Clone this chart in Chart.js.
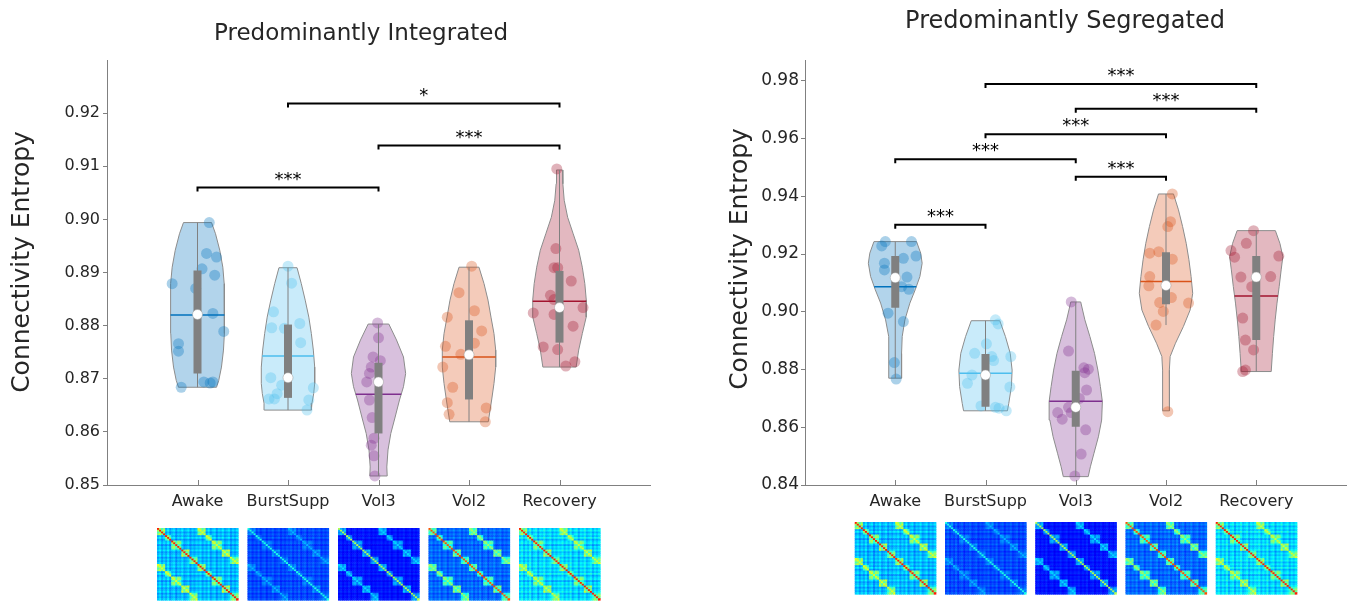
<!DOCTYPE html>
<html>
<head>
<meta charset="utf-8">
<script src="https://cdn.jsdelivr.net/npm/chart.js@4.4.1/dist/chart.umd.min.js"></script>
<style>
  body { margin: 0; background: #fff; width: 1352px; height: 601px; overflow: hidden; position: relative; }
  canvas { position: absolute; top: 0; }
  #int_chart { left: 0; }
  #seg_chart { left: 676px; }
</style>
</head>
<body>
<canvas id="int_chart" width="676" height="601"></canvas>
<canvas id="seg_chart" width="676" height="601"></canvas>
<script>
const conditions = ['Awake', 'BurstSupp', 'Vol3', 'Vol2', 'Recovery'];
const colors = ['#0072BD', '#4DBEEE', '#7E2F8E', '#D95319', '#A2142F'];
const xTickValues = [1, 2, 3, 4, 5];

// ---- Predominantly Integrated ----
const intTicks = [0.85, 0.86, 0.87, 0.88, 0.89, 0.90, 0.91, 0.92];
// violin outline: [value, half width in category units], top to bottom
const intViolin = [
  [[0.8994,0.155],[0.8973,0.199],[0.8942,0.246],[0.8910,0.280],[0.8879,0.295],[0.8848,0.298],[0.8816,0.298],[0.8785,0.295],[0.8754,0.287],[0.8722,0.265],[0.8697,0.235],[0.8684,0.210]],
  [[0.8909,0.100],[0.8879,0.147],[0.8848,0.190],[0.8816,0.230],[0.8785,0.258],[0.8754,0.280],[0.8722,0.295],[0.8691,0.295],[0.8672,0.284],[0.8654,0.265],[0.8641,0.258]],
  [[0.8803,0.114],[0.8773,0.199],[0.8741,0.276],[0.8710,0.300],[0.8685,0.276],[0.8660,0.232],[0.8628,0.184],[0.8597,0.136],[0.8566,0.105],[0.8534,0.092],[0.8517,0.096]],
  [[0.8910,0.110],[0.8879,0.166],[0.8848,0.210],[0.8816,0.243],[0.8785,0.276],[0.8754,0.295],[0.8722,0.295],[0.8691,0.276],[0.8660,0.250],[0.8628,0.221],[0.8619,0.213]],
  [[0.9093,0.033],[0.9067,0.037],[0.9036,0.052],[0.9004,0.090],[0.8973,0.151],[0.8942,0.212],[0.8910,0.252],[0.8879,0.280],[0.8848,0.296],[0.8816,0.295],[0.8785,0.252],[0.8754,0.212],[0.8722,0.184]]
];
const intBox = [[0.8710,0.8904],[0.8664,0.8802],[0.8597,0.8730],[0.8661,0.8810],[0.8768,0.8903]];
const intWhisker = [[0.8684,0.8994],[0.8641,0.8909],[0.8517,0.8803],[0.8619,0.8910],[0.8722,0.9093]];
const intMedian = [0.8821, 0.8702, 0.8694, 0.8745, 0.8834];
const intMean = [0.8820, 0.8743, 0.8671, 0.8741, 0.8846];
const intPoints = [
  [0.8994,0.8936,0.8929,0.8907,0.8895,0.8879,0.8870,0.8823,0.8789,0.8766,0.8752,0.8684,0.8694,0.8692,0.8694],
  [0.8912,0.8880,0.8826,0.8796,0.8795,0.8804,0.8768,0.8702,0.8688,0.8672,0.8662,0.8662,0.8683,0.8660,0.8641],
  [0.8805,0.8777,0.8741,0.8734,0.8722,0.8710,0.8694,0.8660,0.8627,0.8588,0.8575,0.8555,0.8517],
  [0.8912,0.8862,0.8816,0.8828,0.8790,0.8767,0.8761,0.8746,0.8722,0.8684,0.8655,0.8633,0.8645,0.8619],
  [0.9095,0.8945,0.8909,0.8909,0.8884,0.8857,0.8849,0.8824,0.8821,0.8834,0.8799,0.8760,0.8755,0.8724,0.8732]
];
const intJitter = [
  [0.13,0.10,0.21,0.05,0.19,-0.28,-0.02,0.17,0.29,-0.21,-0.21,-0.18,0.07,0.14,0.17],
  [0.00,0.04,-0.16,-0.18,-0.04,0.13,0.14,-0.19,-0.07,-0.12,-0.15,-0.21,0.28,0.23,0.21],
  [-0.01,0.00,-0.06,0.02,-0.08,-0.10,-0.13,-0.10,-0.07,-0.05,-0.08,-0.05,-0.04],
  [0.03,-0.11,-0.24,0.06,0.14,0.06,-0.26,-0.09,-0.29,-0.18,-0.24,-0.22,0.19,0.18],
  [-0.03,-0.04,-0.06,-0.02,0.13,-0.10,-0.06,-0.29,-0.06,0.26,0.15,-0.18,-0.02,0.07,0.17]
];
// significance: [from, to, level, stars]
const intSig = [[2, 5, 0.9218, '*'], [3, 5, 0.9139, '***'], [1, 3, 0.9060, '***']];

// ---- Predominantly Segregated ----
const segTicks = [0.84, 0.86, 0.88, 0.90, 0.92, 0.94, 0.96, 0.98];
const segViolin = [
  [[0.9243,0.236],[0.9203,0.282],[0.9168,0.298],[0.9122,0.273],[0.9076,0.221],[0.9030,0.162],[0.8972,0.107],[0.8914,0.077],[0.8856,0.070],[0.8798,0.070],[0.8770,0.070]],
  [[0.8969,0.158],[0.8914,0.221],[0.8856,0.274],[0.8798,0.295],[0.8741,0.287],[0.8683,0.258],[0.8657,0.243]],
  [[0.9034,0.055],[0.8972,0.101],[0.8914,0.157],[0.8856,0.208],[0.8798,0.245],[0.8741,0.273],[0.8689,0.295],[0.8625,0.287],[0.8567,0.251],[0.8510,0.202],[0.8463,0.162],[0.8429,0.138]],
  [[0.9408,0.083],[0.9353,0.138],[0.9295,0.184],[0.9237,0.224],[0.9180,0.254],[0.9122,0.278],[0.9064,0.296],[0.9006,0.267],[0.8949,0.193],[0.8891,0.105],[0.8845,0.046],[0.8798,0.037],[0.8741,0.037],[0.8683,0.039],[0.8657,0.039]],
  [[0.9281,0.212],[0.9237,0.262],[0.9191,0.295],[0.9145,0.276],[0.9087,0.254],[0.9030,0.230],[0.8972,0.210],[0.8914,0.193],[0.8856,0.179],[0.8793,0.166]]
];
const segBox = [[0.9014,0.9193],[0.8671,0.8854],[0.8602,0.8796],[0.9026,0.9206],[0.8902,0.9193]];
const segWhisker = [[0.8770,0.9243],[0.8657,0.8969],[0.8429,0.9034],[0.8954,0.9408],[0.8793,0.9281]];
const segMedian = [0.9118, 0.8781, 0.8669, 0.9091, 0.9120];
const segMean = [0.9087, 0.8787, 0.8690, 0.9105, 0.9055];
const segPoints = [
  [0.9243,0.9243,0.9228,0.9193,0.9185,0.9168,0.9145,0.9120,0.9087,0.9078,0.8995,0.8966,0.8824,0.8767],
  [0.8972,0.8958,0.8889,0.8856,0.8845,0.8831,0.8845,0.8781,0.8752,0.8739,0.8674,0.8669,0.8666,0.8657],
  [0.9034,0.8864,0.8806,0.8801,0.8789,0.8729,0.8700,0.8669,0.8651,0.8651,0.8628,0.8591,0.8507,0.8431],
  [0.9408,0.9312,0.9295,0.9203,0.9208,0.9182,0.9122,0.9090,0.9049,0.9032,0.9030,0.9001,0.8954,0.8654],
  [0.9281,0.9237,0.9212,0.9189,0.9193,0.9120,0.9122,0.9087,0.8978,0.8902,0.8868,0.8798,0.8793]
];
const segJitter = [
  [-0.11,0.18,-0.15,0.23,0.09,-0.12,-0.12,0.13,0.07,0.15,-0.08,0.09,-0.01,0.01],
  [0.11,0.14,0.01,-0.12,0.07,0.09,0.28,-0.15,-0.20,0.27,-0.05,0.11,0.15,0.23],
  [-0.05,-0.08,0.09,0.14,0.10,0.12,0.04,-0.08,-0.05,-0.20,-0.15,0.11,0.06,-0.01],
  [0.07,0.05,0.02,-0.18,-0.08,0.07,-0.18,-0.19,0.06,-0.07,0.25,-0.03,-0.11,0.02],
  [-0.03,-0.11,-0.28,-0.24,0.25,-0.17,0.16,-0.05,-0.15,-0.12,-0.03,-0.12,-0.15]
];
const segSig = [[2, 5, 0.9789, '***'], [3, 5, 0.9703, '***'], [2, 4, 0.9615, '***'], [1, 3, 0.9528, '***'], [3, 4, 0.9468, '***'], [1, 2, 0.9301, '***']];

// connectivity matrix thumbnails (jet colour levels), one hemisphere of regions
const thumbModule = [0,0,0,0,1,1,1,2,2,2,2,2,3,3,3,3,4,4,4,4];
const thumbWeight = [1.0,1.25,0.85,1.15,0.9,1.3,0.8,1.05,1.2,0.75,1.1,0.95,1.25,0.85,1.0,1.2,0.8,1.1,0.9,1.15];
// [between, within, diagonal]
const thumbLevels = [[0.30,0.48,0.85],[0.19,0.24,0.40],[0.14,0.27,0.55],[0.22,0.43,0.80],[0.33,0.47,0.85]];

const FONT = "'DejaVu Sans', Verdana, sans-serif";
const TEXT = '#262626';
const AXIS = '#808080';

function rgba(hex, a) {
  const n = parseInt(hex.slice(1), 16);
  return `rgba(${n >> 16},${(n >> 8) & 255},${n & 255},${a})`;
}

function jet(v) {
  const c = t => Math.round(255 * Math.max(0, Math.min(1, t)));
  return `rgb(${c(1.5 - Math.abs(4 * v - 3))},${c(1.5 - Math.abs(4 * v - 2))},${c(1.5 - Math.abs(4 * v - 1))})`;
}

function widthAt(shape, v) {
  for (let k = 0; k < shape.length - 1; k++) {
    const [v1, w1] = shape[k], [v2, w2] = shape[k + 1];
    if (v <= v1 && v >= v2) return w1 + (w2 - w1) * (v - v1) / (v2 - v1);
  }
  return shape[shape.length - 1][1];
}

function buildDatasets(p) {
  const ds = [];
  p.violin.forEach((shape, i) => {
    const c = i + 1;
    const right = shape.map(([v, hw]) => ({x: c + hw, y: v}));
    const left = shape.slice().reverse().map(([v, hw]) => ({x: c - hw, y: v}));
    ds.push({
      data: right.concat(left, [right[0]]), showLine: true, fill: 'shape',
      backgroundColor: rgba(colors[i], 0.3), borderColor: '#8c8c8c', borderWidth: 1,
      pointRadius: 0, tension: 0, order: 10
    });
    ds.push({
      data: p.points[i].map((v, k) => ({x: c + p.jitter[i][k], y: v})),
      pointRadius: 5.5, backgroundColor: rgba(colors[i], 0.33), borderWidth: 0, clip: false, order: 9
    });
    ds.push({
      data: [{x: c, y: p.whisker[i][0]}, {x: c, y: p.whisker[i][1]}], showLine: true,
      borderColor: AXIS, borderWidth: 1, pointRadius: 0, order: 8
    });
    const mw = widthAt(shape, p.mean[i]);
    ds.push({
      data: [{x: c - mw, y: p.mean[i]}, {x: c + mw, y: p.mean[i]}], showLine: true,
      borderColor: colors[i], borderWidth: 1.5, pointRadius: 0, order: 7
    });
    ds.push({
      data: [{x: c, y: p.box[i][0]}, {x: c, y: p.box[i][1]}], showLine: true,
      borderColor: AXIS, borderWidth: 8, borderCapStyle: 'butt', pointRadius: 0, order: 6
    });
    ds.push({
      data: [{x: c, y: p.median[i]}], pointRadius: 5, backgroundColor: '#fff',
      borderColor: '#9a9a9a', borderWidth: 0.5, order: 5
    });
  });
  return ds;
}

function drawThumb(ctx, cx, top, w, h, lv) {
  const half = thumbModule.length, n = half * 2;
  const cw = w / n, ch = h / n, left = cx - w / 2;
  for (let i = 0; i < n; i++) {
    for (let j = 0; j < n; j++) {
      const ri = i % half, rj = j % half;
      const s = Math.sqrt(thumbWeight[ri] * thumbWeight[rj]);
      let v;
      if (i === j) v = lv[2];
      else if (ri === rj) v = lv[1] * 1.25;
      else if (thumbModule[ri] === thumbModule[rj]) v = lv[1] * s;
      else v = lv[0] * s;
      ctx.fillStyle = jet(v);
      ctx.fillRect(left + j * cw, top + i * ch, cw + 0.6, ch + 0.6);
    }
  }
}

function makeDecor(p) {
  return {
    id: 'decor',
    afterDraw(chart) {
      const {ctx, chartArea} = chart;
      const x = chart.scales.x, y = chart.scales.y;
      ctx.save();
      ctx.fillStyle = TEXT;
      ctx.font = `${p.titleSize}px ${FONT}`;
      ctx.textAlign = 'center';
      ctx.textBaseline = 'middle';
      ctx.fillText(p.title, p.titleX, p.titleY);

      ctx.strokeStyle = AXIS;
      ctx.lineWidth = 1;
      xTickValues.forEach(v => {
        const px = Math.round(x.getPixelForValue(v)) + 0.5;
        ctx.beginPath();
        ctx.moveTo(px, chartArea.bottom);
        ctx.lineTo(px, chartArea.bottom - 5);
        ctx.stroke();
      });
      p.sig.forEach(([a, b, v, label]) => {
        const x1 = x.getPixelForValue(a), x2 = x.getPixelForValue(b), py = y.getPixelForValue(v);
        ctx.strokeStyle = '#000';
        ctx.lineWidth = 2;
        ctx.beginPath();
        ctx.moveTo(x1, py + 4); ctx.lineTo(x1, py); ctx.lineTo(x2, py); ctx.lineTo(x2, py + 4);
        ctx.stroke();
        ctx.fillStyle = '#000';
        ctx.font = `18px ${FONT}`;
        ctx.textAlign = 'center';
        ctx.textBaseline = 'alphabetic';
        ctx.fillText(label, (x1 + x2) / 2, py - 3);
      });
      ctx.save();
      ctx.translate(p.yTitleX, p.yTitleY);
      ctx.rotate(-Math.PI / 2);
      ctx.font = `25px ${FONT}`;
      ctx.fillStyle = TEXT;
      ctx.textAlign = 'center';
      ctx.textBaseline = 'middle';
      ctx.fillText('Connectivity Entropy', 0, 0);
      ctx.restore();
      thumbLevels.forEach((lv, i) => {
        drawThumb(ctx, x.getPixelForValue(i + 1), p.thumbTop, 81, 72, lv);
      });
      ctx.restore();
    }
  };
}

function makeChart(id, p) {
  new Chart(document.getElementById(id), {
    type: 'scatter',
    data: {datasets: buildDatasets(p)},
    plugins: [makeDecor(p)],
    options: {
      responsive: false,
      animation: false,
      events: [],
      layout: {padding: {left: 0, right: p.padRight, top: 60, bottom: 0}},
      plugins: {
        legend: {display: false},
        tooltip: {enabled: false},
        title: {display: false}
      },
      scales: {
        x: {
          type: 'linear', min: 0, max: 6,
          afterBuildTicks: s => { s.ticks = xTickValues.map(v => ({value: v})); },
          afterFit: s => { s.height = 116; },
          ticks: {
            callback: (v, i) => conditions[i], color: TEXT, padding: 7,
            font: {family: FONT, size: 16}, maxRotation: 0, autoSkip: false
          },
          grid: {drawOnChartArea: false, drawTicks: false},
          border: {color: AXIS}
        },
        y: {
          min: p.yMin, max: p.yMax,
          afterBuildTicks: s => { s.ticks = p.ticks.map(v => ({value: v})); },
          afterFit: s => { s.width = p.yWidth; },
          ticks: {
            callback: v => v.toFixed(2), color: TEXT, padding: p.tickPad,
            font: {family: FONT, size: p.tickSize}
          },
          grid: {drawOnChartArea: false, drawTicks: true, tickLength: 4, color: AXIS},
          border: {color: AXIS}
        }
      }
    }
  });
}

makeChart('int_chart', {
  title: 'Predominantly Integrated', titleSize: 23, titleX: 361, titleY: 34,
  violin: intViolin, box: intBox, whisker: intWhisker, median: intMedian, mean: intMean,
  points: intPoints, jitter: intJitter, sig: intSig, ticks: intTicks,
  yMin: 0.85, yMax: 0.93, yWidth: 107, padRight: 26, tickSize: 16, tickPad: 3,
  yTitleX: 22, yTitleY: 262, thumbTop: 528
});

makeChart('seg_chart', {
  title: 'Predominantly Segregated', titleSize: 24, titleX: 389, titleY: 22,
  violin: segViolin, box: segBox, whisker: segWhisker, median: segMedian, mean: segMean,
  points: segPoints, jitter: segJitter, sig: segSig, ticks: segTicks,
  yMin: 0.84, yMax: 0.9872, yWidth: 129, padRight: 4, tickSize: 17, tickPad: 2,
  yTitleX: 64, yTitleY: 259, thumbTop: 522
});
</script>
</body>
</html>
